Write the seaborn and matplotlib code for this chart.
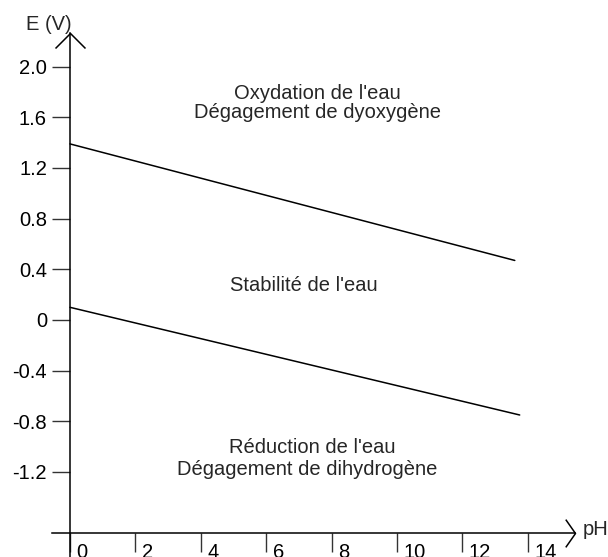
import numpy as np
import pandas as pd
import seaborn as sns
from matplotlib import pyplot as plt
from matplotlib.path import Path
from matplotlib.transforms import ScaledTranslation

# graduations
ph_ticks = [0, 2, 4, 6, 8, 10, 12, 14]
e_ticks = [2.0, 1.6, 1.2, 0.8, 0.4, 0.0, -0.4, -0.8, -1.2]
e_tick_labels = ["2.0", "1.6", "1.2", "0.8", "0.4", "0", "-0.4", "-0.8", "-1.2"]

ph_o2 = [0, 13.6]
e_o2 = [1.39, 0.47]
ph_h2 = [0, 13.75]
e_h2 = [0.10, -0.75]

df = pd.DataFrame(
    {
        "pH": ph_o2 + ph_h2,
        "E": e_o2 + e_h2,
        "couple": ["O2/H2O"] * 2 + ["H+/H2"] * 2,
    }
)

sns.set_style("white")
plt.rcParams["font.family"] = ["Liberation Sans", "DejaVu Sans"]
fs = 14.5

fig = plt.figure(figsize=(6.08, 5.57), dpi=100)
ax = fig.add_axes([0, 0, 1, 1])
sns.lineplot(
    data=df, x="pH", y="E", hue="couple", palette=["black", "black"],
    legend=False, lw=1.1, estimator=None, sort=False, ax=ax,
)

ax.set_xlim(-2.14, 16.45)
ax.set_ylim(-1.871, 2.526)
ax.set_xlabel("")
ax.set_ylabel("")

x_axis_e = -1.679
y_top = 2.265
x_right = 15.44
ax.spines["left"].set_position(("data", 0))
ax.spines["bottom"].set_position(("data", x_axis_e))
ax.spines["left"].set_bounds(-1.871, y_top)
ax.spines["bottom"].set_bounds(-0.55, x_right)
ax.spines["top"].set_visible(False)
ax.spines["right"].set_visible(False)
for s in ["left", "bottom"]:
    ax.spines[s].set_color("black")
    ax.spines[s].set_linewidth(1.1)

ax.set_xticks(ph_ticks)
ax.set_xticklabels([str(v) for v in ph_ticks])
ax.set_yticks(e_ticks)
ax.set_yticklabels(e_tick_labels)
ax.tick_params(axis="y", left=True, direction="out", length=13, width=1,
               color="#333333", pad=3.6, labelsize=fs, labelcolor="black")
ax.tick_params(axis="x", bottom=True, direction="out", length=14, width=1,
               color="#333333", pad=-6.8, labelsize=fs, labelcolor="black")
for lab in ax.get_xticklabels():
    lab.set_horizontalalignment("left")
    lab.set_transform(lab.get_transform() + ScaledTranslation(0.065, 0, fig.dpi_scale_trans))

# fleches des axes
up_chev = Path([(-1, -1), (0, 0), (1, -1)], [Path.MOVETO, Path.LINETO, Path.LINETO])
right_chev = Path([(-0.7, 1), (0, 0), (-0.7, -1)], [Path.MOVETO, Path.LINETO, Path.LINETO])
ax.plot([0], [y_top], marker=up_chev, ms=21.6, mfc="none", mec="black", mew=1.1, clip_on=False)
ax.plot([x_right], [x_axis_e], marker=right_chev, ms=20, mfc="none", mec="black", mew=1.1, clip_on=False)

ax.text(0.05, 2.33, "E (V)", ha="right", va="center", fontsize=fs)
ax.text(15.67, -1.657, "pH", ha="left", va="center", fontsize=fs)

ax.text(7.55, 1.784, "Oxydation de l'eau", ha="center", va="center", fontsize=fs)
ax.text(7.58, 1.634, "Dégagement de dyoxygène", ha="center", va="center", fontsize=fs)
ax.text(7.16, 0.271, "Stabilité de l'eau", ha="center", va="center", fontsize=fs)
ax.text(7.40, -1.010, "Réduction de l'eau", ha="center", va="center", fontsize=fs)
ax.text(7.26, -1.184, "Dégagement de dihydrogène", ha="center", va="center", fontsize=fs)

fig.savefig("out.png", dpi=100)
